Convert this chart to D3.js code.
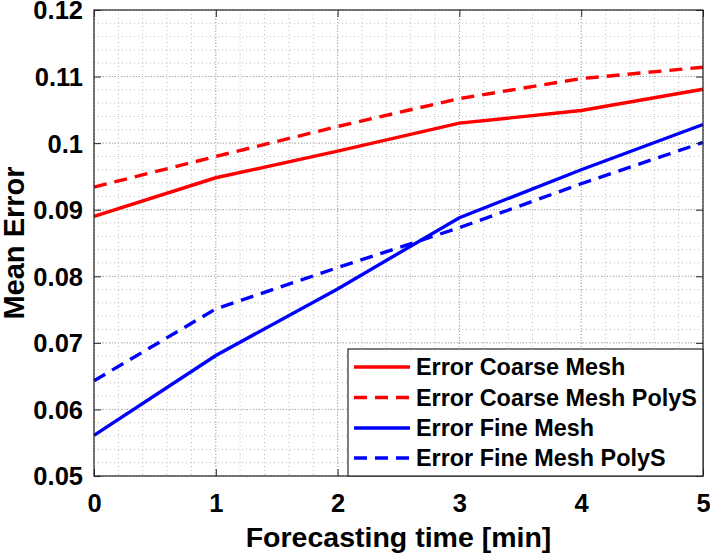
<!DOCTYPE html>
<html>
<head>
<meta charset="utf-8">
<script src="https://cdn.jsdelivr.net/npm/d3@7/dist/d3.min.js"></script>
<style>
html,body{margin:0;padding:0;background:#fff;}
svg text{font-family:"Liberation Sans",Arial,Helvetica,sans-serif;font-weight:bold;fill:#000;}
</style>
</head>
<body>
<svg id="chart" width="710" height="557"></svg>
<script>
const times = [0, 1, 2, 3, 4, 5];
const coarseMesh = [0.0890, 0.0948, 0.0988, 0.1030, 0.1049, 0.1081];
const coarseMeshPolyS = [0.0934, 0.0980, 0.1025, 0.1067, 0.1097, 0.1114];
const fineMesh = [0.0561, 0.0681, 0.0781, 0.0888, 0.0960, 0.1028];
const fineMeshPolyS = [0.0643, 0.0751, 0.0813, 0.0873, 0.0939, 0.1001];
const xTicks = [0, 1, 2, 3, 4, 5];
const yTicks = [0.05, 0.06, 0.07, 0.08, 0.09, 0.1, 0.11, 0.12];
const yTickLabels = ["0.05", "0.06", "0.07", "0.08", "0.09", "0.1", "0.11", "0.12"];
const seriesNames = ["Error Coarse Mesh", "Error Coarse Mesh PolyS", "Error Fine Mesh", "Error Fine Mesh PolyS"];
const seriesColors = ["#ff0000", "#ff0000", "#0000ff", "#0000ff"];
const seriesDashed = [false, true, false, true];
const seriesValues = [coarseMesh, coarseMeshPolyS, fineMesh, fineMeshPolyS];

const svg = d3.select("#chart");
const L = 94, R = 703, T = 10, B = 476;
const x = d3.scaleLinear().domain([0, 5]).range([L, R]);
const y = d3.scaleLinear().domain([0.05, 0.12]).range([B, T]);

// minor grid
const gGrid = svg.append("g");
const minorX = d3.range(0, 5.0001, 0.2);
const minorY = d3.range(0.05, 0.12001, 0.002);
gGrid.selectAll("line.mx").data(minorX).enter().append("line")
  .attr("x1", d => x(d)).attr("x2", d => x(d)).attr("y1", T).attr("y2", B)
  .attr("stroke", "#bdbdbd").attr("stroke-width", 1).attr("stroke-dasharray", "1,3");
gGrid.selectAll("line.my").data(minorY).enter().append("line")
  .attr("x1", L).attr("x2", R).attr("y1", d => y(d)).attr("y2", d => y(d))
  .attr("stroke", "#bdbdbd").attr("stroke-width", 1).attr("stroke-dasharray", "1,3");
// major grid
gGrid.selectAll("line.Mx").data(xTicks).enter().append("line")
  .attr("x1", d => x(d)).attr("x2", d => x(d)).attr("y1", T).attr("y2", B)
  .attr("stroke", "#a8a8a8").attr("stroke-width", 1).attr("stroke-dasharray", "1,2");
gGrid.selectAll("line.My").data(yTicks).enter().append("line")
  .attr("x1", L).attr("x2", R).attr("y1", d => y(d)).attr("y2", d => y(d))
  .attr("stroke", "#a8a8a8").attr("stroke-width", 1).attr("stroke-dasharray", "1,2");

// lines
const line = d3.line().x((d, i) => x(times[i])).y(d => y(d));
seriesValues.forEach((vals, k) => {
  svg.append("path").datum(vals)
    .attr("d", line)
    .attr("fill", "none")
    .attr("stroke", seriesColors[k])
    .attr("stroke-width", 3.4)
    .attr("stroke-dasharray", seriesDashed[k] ? "13,8" : null);
});

// axes (ticks inward)
const tickLen = 7;
const axCol = "#262626";
const xAxis = d3.axisBottom(x).tickValues(xTicks).tickSize(-tickLen).tickPadding(14).tickFormat(d3.format("d"));
const gx = svg.append("g").attr("transform", `translate(0,${B})`).call(xAxis);
gx.select(".domain").remove();
gx.selectAll("line").attr("stroke", axCol);
gx.selectAll("text").attr("font-size", 25.5).attr("font-family", null).attr("dy", "0.71em").attr("y", 18);

const xAxisTop = d3.axisTop(x).tickValues(xTicks).tickSize(-tickLen).tickFormat("");
const gxt = svg.append("g").attr("transform", `translate(0,${T})`).call(xAxisTop);
gxt.select(".domain").remove();
gxt.selectAll("line").attr("stroke", axCol);

const yAxis = d3.axisLeft(y).tickValues(yTicks).tickSize(-tickLen).tickPadding(11)
  .tickFormat((d, i) => yTickLabels[i]);
const gy = svg.append("g").attr("transform", `translate(${L},0)`).call(yAxis);
gy.select(".domain").remove();
gy.selectAll("line").attr("stroke", axCol);
gy.selectAll("text").attr("font-size", 25.5).attr("font-family", null).attr("x", -11).attr("dy", "0.35em");

const yAxisRight = d3.axisRight(y).tickValues(yTicks).tickSize(-tickLen).tickFormat("");
const gyr = svg.append("g").attr("transform", `translate(${R},0)`).call(yAxisRight);
gyr.select(".domain").remove();
gyr.selectAll("line").attr("stroke", axCol);

// box
svg.append("rect").attr("x", L).attr("y", T).attr("width", R - L).attr("height", B - T)
  .attr("fill", "none").attr("stroke", axCol).attr("stroke-width", 1.2);

// axis titles
svg.append("text").attr("x", (L + R) / 2).attr("y", 547).attr("text-anchor", "middle")
  .attr("font-size", 28.5).text("Forecasting time [min]");
svg.append("text").attr("transform", `translate(24,${(T + B) / 2}) rotate(-90)`)
  .attr("text-anchor", "middle").attr("font-size", 29).text("Mean Error");

// legend
const lg = svg.append("g");
const lx0 = 348, ly0 = 349, lx1 = 703, ly1 = 476;
lg.append("rect").attr("x", lx0).attr("y", ly0).attr("width", lx1 - lx0).attr("height", ly1 - ly0)
  .attr("fill", "#fff").attr("stroke", axCol).attr("stroke-width", 1.2);
const rowY = [367, 397.5, 428, 458];
seriesNames.forEach((name, k) => {
  lg.append("line").attr("x1", 354).attr("x2", 410).attr("y1", rowY[k]).attr("y2", rowY[k])
    .attr("stroke", seriesColors[k]).attr("stroke-width", 3.4)
    .attr("stroke-dasharray", seriesDashed[k] ? "13,8" : null);
  lg.append("text").attr("x", 416).attr("y", rowY[k]).attr("dy", "0.36em")
    .attr("font-size", 23.4).text(name);
});
</script>
</body>
</html>
